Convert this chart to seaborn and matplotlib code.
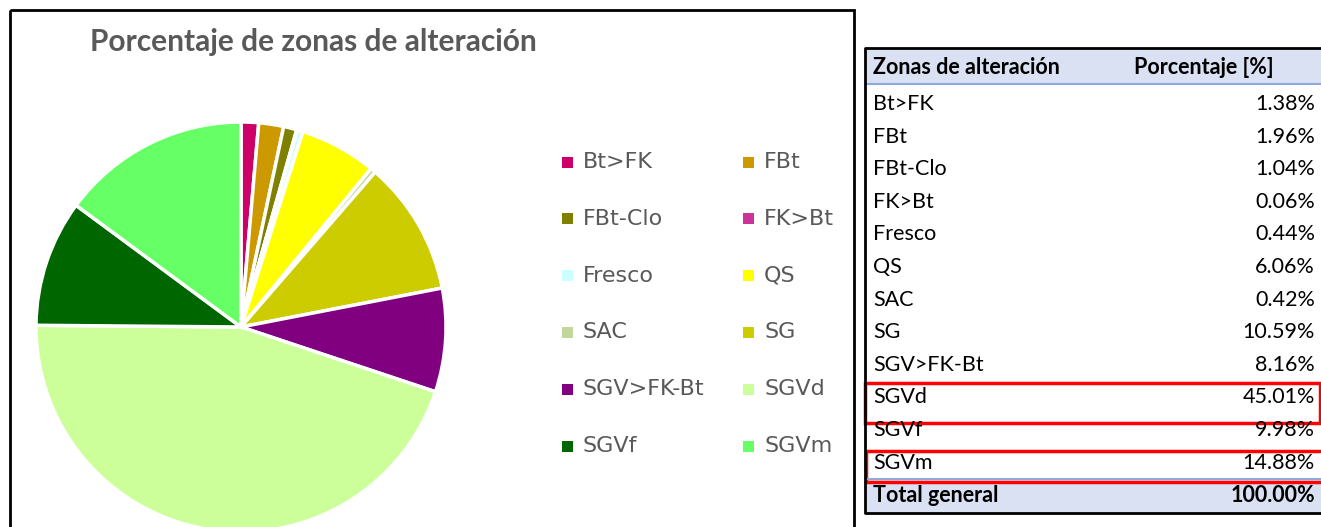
import matplotlib
matplotlib.use("Agg")
import matplotlib.pyplot as plt
from matplotlib.patches import Rectangle
import seaborn as sb

# data
zones = ['Bt>FK', 'FBt', 'FBt-Clo', 'FK>Bt', 'Fresco', 'QS', 'SAC', 'SG',
         'SGV>FK-Bt', 'SGVd', 'SGVf', 'SGVm']
percent = [1.38, 1.96, 1.04, 0.06, 0.44, 6.06, 0.42, 10.59, 8.16, 45.01, 9.98, 14.88]
total_label = '100.00%'
zone_colors = ['#CC0066', '#CC9900', '#808000', '#CC3399', '#CCFFFF', '#FFFF00',
               '#C4D79B', '#CCCC00', '#800080', '#CCFF99', '#006600', '#66FF66']

sb.set_theme(style="white")
palette = sb.color_palette(zone_colors)

W, H = 1321, 527
fig = plt.figure(figsize=(W / 100, H / 100), dpi=100)
fig.patch.set_facecolor('white')

# layout axes in pixel coordinates
lay = fig.add_axes([0, 0, 1, 1])
lay.set_xlim(0, W)
lay.set_ylim(H, 0)
lay.axis('off')

gray = '#595959'

# chart box
lay.add_patch(Rectangle((10, 10), 844, 530, fill=False, edgecolor='black', lw=2))
lay.text(90, 42, 'Porcentaje de zonas de alteración', fontsize=21.5, fontweight='bold',
         color=gray, family='Lato', va='center', ha='left')

# pie
cx, cy, r = 241, 327, 205
pie_ax = fig.add_axes([(cx - r) / W, (H - cy - r) / H, 2 * r / W, 2 * r / H])
pie_ax.pie(percent, colors=palette, startangle=90, counterclock=False,
           wedgeprops=dict(edgecolor='white', linewidth=2.5))
pie_ax.set_xlim(-1, 1)
pie_ax.set_ylim(-1, 1)
pie_ax.set_aspect('equal')
pie_ax.axis('off')

# legend (two columns, row-wise)
for i, (name, col) in enumerate(zip(zones, palette)):
    row, c = divmod(i, 2)
    x0 = 562 + c * 181
    y0 = 162 + row * 56.8
    lay.add_patch(Rectangle((x0, y0 - 5.5), 11, 11, facecolor=col, edgecolor='none'))
    lay.text(x0 + 21, y0, name, fontsize=16, color=gray, family='DejaVu Sans',
             va='center', ha='left')

# table
tx0, tx1 = 865, 1330
top, head_bot = 48, 84
row_y = [104 + k * 32.6 for k in range(len(zones) + 1)]
lay.add_patch(Rectangle((tx0, top), tx1 - tx0, head_bot - top, facecolor='#D9E1F2', edgecolor='none'))
lay.plot([tx0, tx1], [head_bot, head_bot], color='#8EA9DB', lw=1.5)
lay.add_patch(Rectangle((tx0, 479), tx1 - tx0, 34, facecolor='#D9E1F2', edgecolor='none'))
lay.plot([tx0, tx1], [479, 479], color='#8EA9DB', lw=1.5)
lay.plot([tx1, tx0, tx0, tx1], [top, top, 513, 513], color='black', lw=2)

tfont = 'Lato'
tsize = 15.5
lay.text(873, 67, 'Zonas de alteración', fontsize=tsize, fontweight='bold', family=tfont,
         va='center', ha='left', color='black')
lay.text(1134, 67, 'Porcentaje [%]', fontsize=tsize, fontweight='bold', family=tfont,
         va='center', ha='left', color='black')
for name, val, y in zip(zones, percent, row_y):
    lay.text(873, y, name, fontsize=tsize, family=tfont, va='center', ha='left', color='black')
    lay.text(1315, y, f'{val:.2f}%', fontsize=tsize, family=tfont, va='center', ha='right',
             color='black')
lay.text(873, row_y[-1], 'Total general', fontsize=tsize, fontweight='bold', family=tfont,
         va='center', ha='left', color='black')
lay.text(1315, row_y[-1], total_label, fontsize=tsize, fontweight='bold', family=tfont,
         va='center', ha='right', color='black')

# red highlight boxes
lay.add_patch(Rectangle((865, 383), 455, 40, fill=False, edgecolor='#FF0000', lw=2.5))
lay.add_patch(Rectangle((866, 451), 460, 31, fill=False, edgecolor='#FF0000', lw=2.5))

fig.savefig('out.png', dpi=100, facecolor='white')
